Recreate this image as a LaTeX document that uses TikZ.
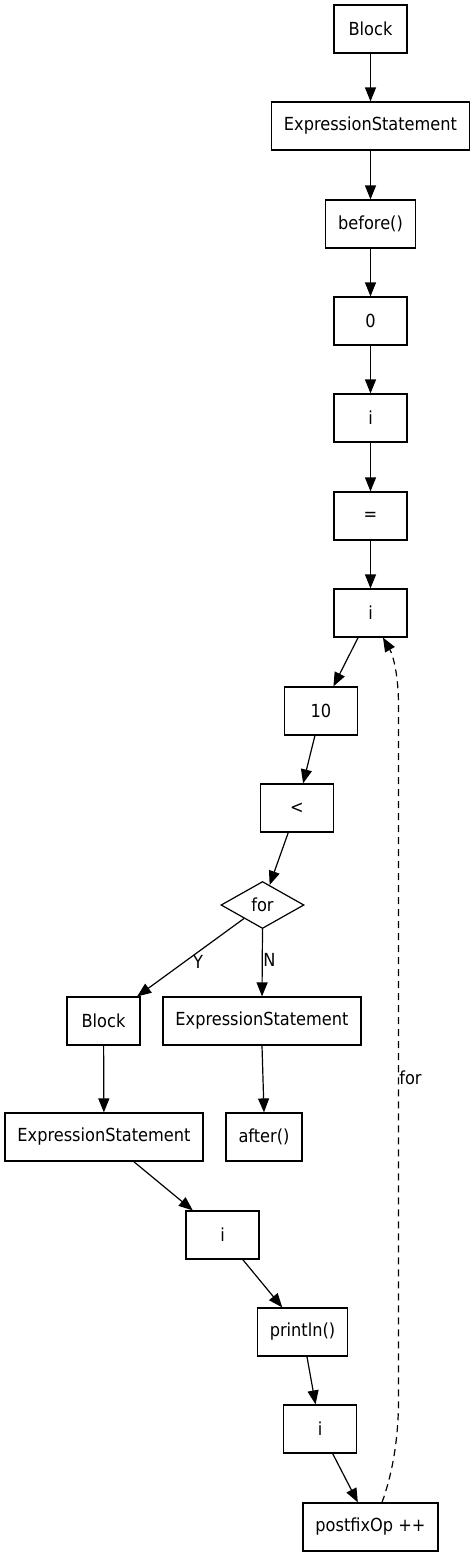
\documentclass[tikz,border=0pt]{standalone}
\usepackage{fontspec}
\IfFontExistsTF{DejaVu Sans Condensed}{\setmainfont{DejaVu Sans Condensed}\newcommand\gvsize{\fontsize{18}{21}\selectfont}}{\setmainfont{DejaVu Sans}\newcommand\gvsize{\fontsize{16.2}{19}\selectfont}}
\usetikzlibrary{shapes.geometric,arrows.meta}
\begin{document}
\begin{tikzpicture}[x=1pt,y=-1pt,
  txt/.style={font=\gvsize},
  box/.style={txt,draw,line width=1.2pt,rectangle,minimum width=73pt,minimum height=48pt,inner xsep=12.5pt,inner ysep=0pt},
  dia/.style={txt,draw,line width=1.2pt,diamond,minimum width=83pt,minimum height=47pt,inner sep=0pt},
  edge/.style={line width=1.2pt,-{Triangle[length=14pt,width=11pt]}},
  back/.style={edge,dash pattern=on 7pt off 5pt},
  lbl/.style={txt,inner sep=0pt}
]
\useasboundingbox (0,0) rectangle (475,1556);
\node[box] (b1) at (370.5,29) {Block};
\node[box] (es1) at (370.5,126) {ExpressionStatement};
\node[box] (bef) at (370.5,224) {before()};
\node[box] (z) at (370.5,321) {0};
\node[box] (i1) at (370.5,418) {i};
\node[box] (eq) at (370.5,516) {=};
\node[box] (i2) at (370.5,613) {i};
\node[box] (ten) at (321,711) {10};
\node[box] (lt) at (297,808) {<};
\node[dia] (for) at (262.5,905) {for};
\node[box] (b2) at (103.5,1021) {Block};
\node[box] (es2) at (262,1021) {ExpressionStatement};
\node[box] (es3) at (104,1137) {ExpressionStatement};
\node[box] (aft) at (264,1137) {after()};
\node[box] (i3) at (222.5,1235) {i};
\node[box] (pr) at (302.5,1332) {println()};
\node[box] (i4) at (320,1429) {i};
\node[box] (pf) at (370.5,1527) {postfixOp ++};
\draw[edge] (b1) -- (es1);
\draw[edge] (es1) -- (bef);
\draw[edge] (bef) -- (z);
\draw[edge] (z) -- (i1);
\draw[edge] (i1) -- (eq);
\draw[edge] (eq) -- (i2);
\draw[edge] (i2) -- (ten);
\draw[edge] (ten) -- (lt);
\draw[edge] (lt) -- (for);
\draw[edge] (for) -- (b2);
\draw[edge] (for.south) -- (es2.north);
\draw[edge] (b2) -- (es3);
\draw[edge] (es2.south) -- (aft.north);
\draw[edge] (es3) -- (i3);
\draw[edge] (i3) -- (pr);
\draw[edge] (pr) -- (i4);
\draw[edge] (i4) -- (pf);
\node[lbl] (ly) at (198,962) {Y};
\node[lbl] (ln) at (269.5,960) {N};
\coordinate (d1) at (398.5,1400);
\coordinate (d2) at (398.5,705);
\draw[back] ([xshift=11.5pt]pf.north) .. controls (392,1475) and (398.5,1440) .. (d1) -- (d2) .. controls (398.5,675) and (393,655) .. ([xshift=12.5pt]i2.south);
\node[lbl] (lf) at (410.5,1078) {for};
\end{tikzpicture}
\end{document}
